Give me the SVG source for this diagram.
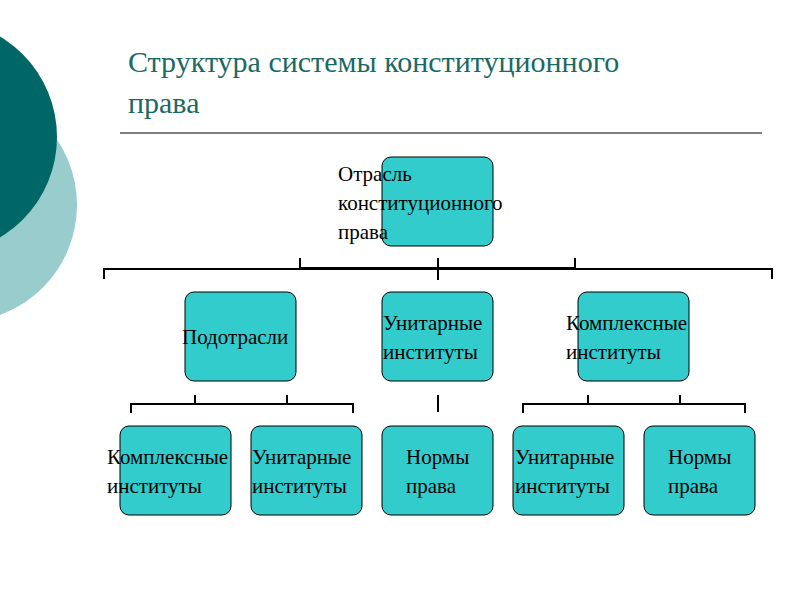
<svg xmlns="http://www.w3.org/2000/svg" width="800" height="600" viewBox="0 0 800 600">
<style>
.b{fill:#33cccc;stroke:#000;stroke-width:1}
.t{font-family:"Liberation Serif",serif;font-size:21px;fill:#000}
.c{stroke:#000;stroke-width:2;fill:none}
</style>
<rect width="800" height="600" fill="#fff"/>
<circle cx="-40" cy="205" r="117" fill="#99cccc"/>
<circle cx="-60" cy="137" r="117" fill="#006666"/>
<text font-family="Liberation Serif,serif" font-size="30" fill="#1a6a64"><tspan x="128" y="72">Структура системы конституционного</tspan><tspan x="128" y="113">права</tspan></text>
<line x1="120" y1="133" x2="762" y2="133" stroke="#000" stroke-width="1"/>
<g id="connectors" class="c">
<path d="M104,279 V269 H772 V279"/>
<path d="M300,258 V268 H575 V258 M438,258 V280"/>
<path d="M131,413 V404 H353 V413 M195,395 V404 M287,395 V404"/>
<path d="M438,395 V412"/>
<path d="M523,413 V404 H745 V413 M588,395 V404 M680,395 V404"/>
</g>
<g id="n0"><rect class="b" x="382" y="157" width="111" height="89" rx="9"/><text class="t"><tspan x="338" y="181">Отрасль</tspan><tspan x="338" y="210">конституционного</tspan><tspan x="338" y="239">права</tspan></text></g>
<g id="n1"><rect class="b" x="185" y="292" width="111" height="89" rx="9"/><text class="t" x="182" y="344">Подотрасли</text></g>
<g id="n2"><rect class="b" x="382" y="292" width="111" height="89" rx="9"/><text class="t"><tspan x="383" y="330">Унитарные</tspan><tspan x="383" y="359">институты</tspan></text></g>
<g id="n3"><rect class="b" x="578" y="292" width="111" height="89" rx="9"/><text class="t"><tspan x="566" y="330">Комплексные</tspan><tspan x="566" y="359">институты</tspan></text></g>
<g id="n4"><rect class="b" x="120" y="426" width="111" height="89" rx="9"/><text class="t"><tspan x="107" y="464">Комплексные</tspan><tspan x="107" y="493">институты</tspan></text></g>
<g id="n5"><rect class="b" x="251" y="426" width="111" height="89" rx="9"/><text class="t"><tspan x="252" y="464">Унитарные</tspan><tspan x="252" y="493">институты</tspan></text></g>
<g id="n6"><rect class="b" x="382" y="426" width="111" height="89" rx="9"/><text class="t"><tspan x="406" y="464">Нормы</tspan><tspan x="406" y="493">права</tspan></text></g>
<g id="n7"><rect class="b" x="513" y="426" width="111" height="89" rx="9"/><text class="t"><tspan x="515" y="464">Унитарные</tspan><tspan x="515" y="493">институты</tspan></text></g>
<g id="n8"><rect class="b" x="644" y="426" width="111" height="89" rx="9"/><text class="t"><tspan x="668" y="464">Нормы</tspan><tspan x="668" y="493">права</tspan></text></g>
</svg>
